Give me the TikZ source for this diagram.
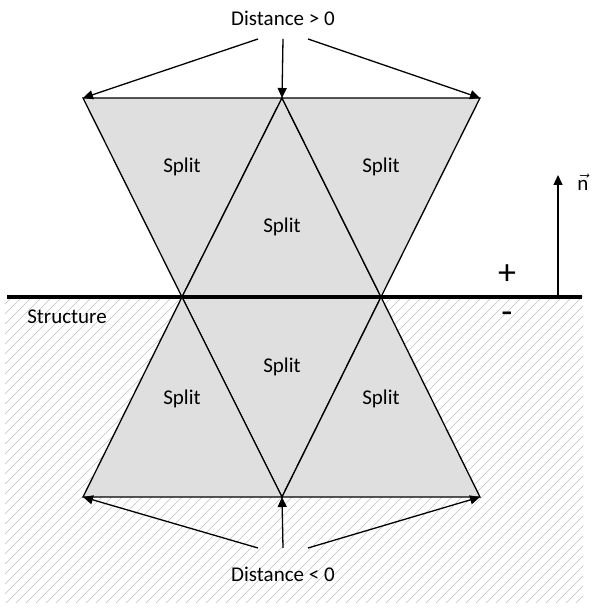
\documentclass[tikz,border=0pt]{standalone}
\usepackage{fontspec}
\setmainfont{Carlito}
\usetikzlibrary{arrows.meta}

\tikzset{
  cell/.style={draw, fill=gray!25, line width=0.65pt, line join=miter},
  pointer/.style={-{Triangle[length=5pt,width=4.5pt]}, line width=0.65pt},
  lbl/.style={font=\fontsize{10.5}{12}\selectfont, inner sep=0pt},
  sign/.style={font=\fontsize{18}{20}\selectfont, inner sep=0pt},
}

\begin{document}
\begin{tikzpicture}[x=0.5pt, y=0.5pt]
  \useasboundingbox (0,0) rectangle (600,609);
  % Hatched structure below the surface
  \begin{scope}
    \clip (5,6) rectangle (583,312);
    \foreach \s in {-320,-310,...,590} {
      \draw[gray!50, line width=0.3pt] (\s,0) -- ++(330,330);
    }
  \end{scope}
  % Corner points of the cells
  \coordinate (t1) at (83,511);
  \coordinate (t2) at (282,511);
  \coordinate (t3) at (480,511);
  \coordinate (m1) at (182,312);
  \coordinate (m2) at (381,312);
  \coordinate (b1) at (83,112);
  \coordinate (b2) at (282,112);
  \coordinate (b3) at (480,112);
  % Split cells above the surface
  \draw[cell] (t1) -- (t2) -- (m1) -- cycle;
  \draw[cell] (t2) -- (m2) -- (m1) -- cycle;
  \draw[cell] (t2) -- (t3) -- (m2) -- cycle;
  % Split cells below the surface
  \draw[cell] (m1) -- (m2) -- (b2) -- cycle;
  \draw[cell] (m1) -- (b2) -- (b1) -- cycle;
  \draw[cell] (m2) -- (b3) -- (b2) -- cycle;
  % Cell labels
  \node[lbl] (s1) at (182,442) {Split};
  \node[lbl] (s2) at (282,382) {Split};
  \node[lbl] (s3) at (381,442) {Split};
  \node[lbl] (s4) at (282,242) {Split};
  \node[lbl] (s5) at (182,210) {Split};
  \node[lbl] (s6) at (381,210) {Split};
  % Structure surface
  \coordinate (sl) at (7,312);
  \coordinate (sr) at (582,312);
  \draw[line width=2pt] (sl) -- (sr);
  \node[lbl] (st) at (67,292) {Structure};
  \node[sign] (plus) at (507,334) {+};
  \node[sign] (minus) at (507,291) {-};
  % Normal vector
  \coordinate (nb) at (558,312);
  \coordinate (nt) at (558,434);
  \draw[pointer] (nb) -- (nt);
  \node[lbl] (nl) at (583,427) {$\vec{\mbox{n}}$};
  % Positive distance
  \node[lbl] (dpos) at (283,591) {Distance > 0};
  \coordinate (p1) at (258,570);
  \coordinate (p2) at (283,570);
  \coordinate (p3) at (308,570);
  \draw[pointer] (p1) -- (t1);
  \draw[pointer] (p2) -- (t2);
  \draw[pointer] (p3) -- (t3);
  % Negative distance
  \node[lbl] (dneg) at (283,35) {Distance < 0};
  \coordinate (q1) at (258,61);
  \coordinate (q2) at (283,61);
  \coordinate (q3) at (308,61);
  \draw[pointer] (q1) -- (b1);
  \draw[pointer] (q2) -- (b2);
  \draw[pointer] (q3) -- (b3);
\end{tikzpicture}
\end{document}
